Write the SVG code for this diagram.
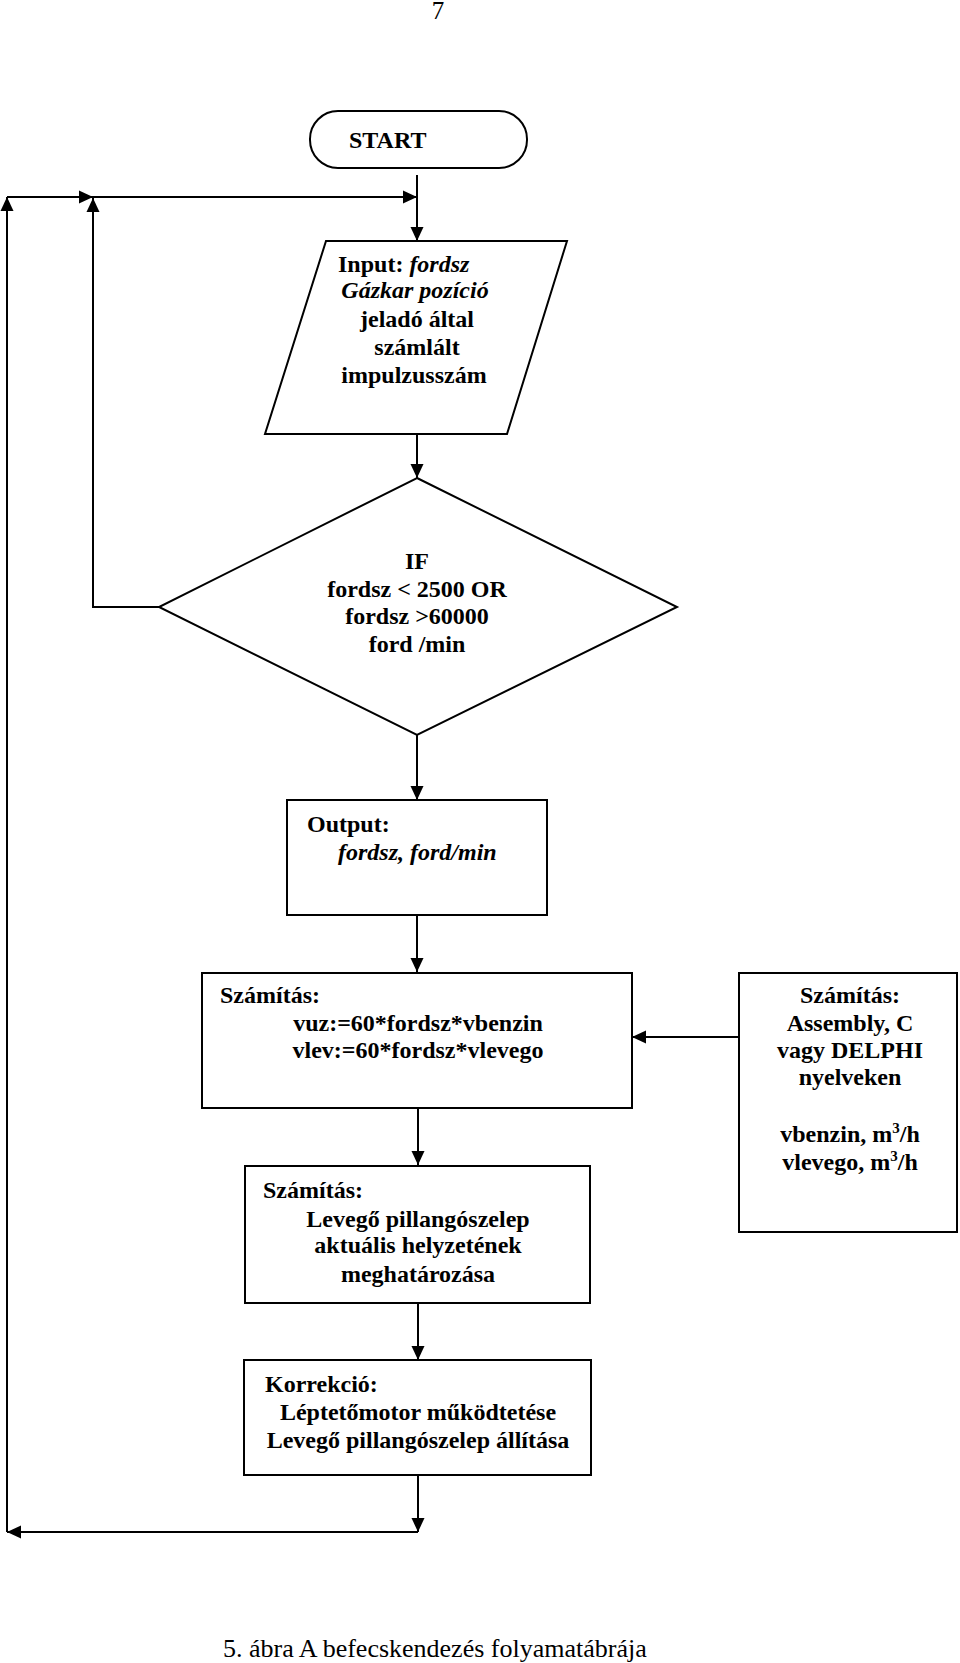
<svg xmlns="http://www.w3.org/2000/svg" width="960" height="1663" viewBox="0 0 960 1663">
<style>
.shape{fill:#fff;stroke:#000;stroke-width:2}
.t{font-family:"Liberation Serif","Times New Roman",serif;font-size:24px;font-weight:bold;fill:#000}
.m{text-anchor:middle}
.i{font-style:italic}
.c{stroke:#000;stroke-width:2;fill:none}
.reg{font-family:"Liberation Serif","Times New Roman",serif;fill:#000}
</style>
<defs>
<marker id="ah" markerUnits="userSpaceOnUse" markerWidth="16" markerHeight="14" viewBox="0 0 16 14" refX="15" refY="7" orient="auto">
<path d="M1,0.5 L15,7 L1,13.5 Z" fill="#000"/>
</marker>
</defs>
<rect width="960" height="1663" fill="#fff"/>
<text class="reg" x="438" y="19" font-size="25" text-anchor="middle">7</text>

<g id="connectors">
<line class="c" x1="417" y1="175" x2="417" y2="241" marker-end="url(#ah)"/>
<line class="c" x1="7" y1="1532" x2="7" y2="197" marker-end="url(#ah)"/>
<line class="c" x1="7" y1="197" x2="93" y2="197" marker-end="url(#ah)"/>
<line class="c" x1="93" y1="197" x2="417" y2="197" marker-end="url(#ah)"/>
<polyline class="c" points="159,607 93,607 93,197"/>
<line class="c" x1="93" y1="240" x2="93" y2="198" marker-end="url(#ah)"/>
<line class="c" x1="417" y1="434" x2="417" y2="478" marker-end="url(#ah)"/>
<line class="c" x1="417" y1="735" x2="417" y2="800" marker-end="url(#ah)"/>
<line class="c" x1="417" y1="908" x2="417" y2="972" marker-end="url(#ah)"/>
<line class="c" x1="738" y1="1037" x2="632" y2="1037" marker-end="url(#ah)"/>
<line class="c" x1="418" y1="1102" x2="418" y2="1165" marker-end="url(#ah)"/>
<line class="c" x1="418" y1="1295" x2="418" y2="1360" marker-end="url(#ah)"/>
<line class="c" x1="418" y1="1467" x2="418" y2="1532" marker-end="url(#ah)"/>
<line class="c" x1="418" y1="1532" x2="7" y2="1532" marker-end="url(#ah)"/>
</g>

<g id="start">
<rect class="shape" x="310" y="111" width="217" height="57" rx="28" ry="28"/>
<text class="t" x="349" y="148">START</text>
</g>

<g id="input">
<polygon class="shape" points="326,241 567,241 507,434 265,434"/>
<text class="t" x="338" y="272">Input: <tspan class="i">fordsz</tspan></text>
<text class="t m i" x="415" y="298">Gázkar pozíció</text>
<text class="t m" x="417" y="327">jeladó által</text>
<text class="t m" x="417" y="355">számlált</text>
<text class="t m" x="414" y="383">impulzusszám</text>
</g>

<g id="decision">
<polygon class="shape" points="417,478 677,607 417,735 159,607"/>
<text class="t m" x="417" y="569">IF</text>
<text class="t m" x="417" y="597">fordsz &lt; 2500 OR</text>
<text class="t m" x="417" y="624">fordsz &gt;60000</text>
<text class="t m" x="417" y="652">ford /min</text>
</g>

<g id="output">
<rect class="shape" x="287" y="800" width="260" height="115"/>
<text class="t" x="307" y="832">Output:</text>
<text class="t i" x="338" y="860">fordsz, ford/min</text>
</g>

<g id="calc1">
<rect class="shape" x="202" y="973" width="430" height="135"/>
<text class="t" x="220" y="1003">Számítás:</text>
<text class="t m" x="418" y="1031">vuz:=60*fordsz*vbenzin</text>
<text class="t m" x="418" y="1058">vlev:=60*fordsz*vlevego</text>
</g>

<g id="calc-lang">
<rect class="shape" x="739" y="973" width="218" height="259"/>
<text class="t m" x="850" y="1003">Számítás:</text>
<text class="t m" x="850" y="1031">Assembly, C</text>
<text class="t m" x="850" y="1058">vagy DELPHI</text>
<text class="t m" x="850" y="1085">nyelveken</text>
<text class="t m" x="850" y="1142">vbenzin, m<tspan font-size="15" dy="-9">3</tspan><tspan dy="9">/h</tspan></text>
<text class="t m" x="850" y="1170">vlevego, m<tspan font-size="15" dy="-9">3</tspan><tspan dy="9">/h</tspan></text>
</g>

<g id="calc2">
<rect class="shape" x="245" y="1166" width="345" height="137"/>
<text class="t" x="263" y="1198">Számítás:</text>
<text class="t m" x="418" y="1227">Levegő pillangószelep</text>
<text class="t m" x="418" y="1253">aktuális helyzetének</text>
<text class="t m" x="418" y="1282">meghatározása</text>
</g>

<g id="correction">
<rect class="shape" x="244" y="1360" width="347" height="115"/>
<text class="t" x="265" y="1392">Korrekció:</text>
<text class="t m" x="418" y="1420">Léptetőmotor működtetése</text>
<text class="t m" x="418" y="1448">Levegő pillangószelep állítása</text>
</g>

<text class="reg" x="223" y="1657" font-size="26">5. ábra A befecskendezés folyamatábrája</text>
</svg>
